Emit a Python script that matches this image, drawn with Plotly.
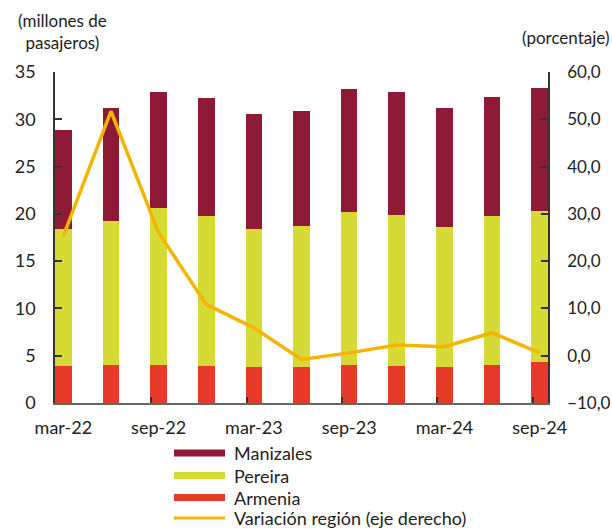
import plotly.graph_objects as go

# Quarterly air passenger traffic, Eje Cafetero region
periods = ["mar-22", "jun-22", "sep-22", "dec-22", "mar-23", "jun-23",
           "sep-23", "dec-23", "mar-24", "jun-24", "sep-24"]
armenia = [3.9, 4.05, 4.05, 3.9, 3.77, 3.77, 4.05, 3.9, 3.77, 4.05, 4.3]
pereira = [14.5, 15.15, 16.55, 15.87, 14.63, 14.91, 16.1, 16.0, 14.8, 15.72, 16.03]
manizales = [10.45, 11.95, 12.3, 12.48, 12.2, 12.22, 13.05, 13.0, 12.58, 12.63, 13.0]
variacion = [25.3, 51.7, 26.0, 10.85, 5.9, -0.8, 0.6, 2.25, 1.9, 4.86, 0.6]

tick_labels = periods[::2]

COL_MAN = "#8E1A35"
COL_PER = "#D5DA34"
COL_ARM = "#E63B2A"
COL_VAR = "#F5B400"
FONT = "Lato"

W, H = 612, 529
ML, MR, MT, MB = 55, 64, 72, 126
x = list(range(len(periods)))
x_range = [-0.175, len(periods) - 1 + 0.175]
# small tick marks sit just left of every second bar
tick_marks = [i - 0.15 for i in x[2::2]]

fig = go.Figure()
for name, vals, col in [("Armenia", armenia, COL_ARM),
                        ("Pereira", pereira, COL_PER),
                        ("Manizales", manizales, COL_MAN)]:
    fig.add_trace(go.Bar(x=x, y=vals, name=name, marker_color=col,
                         marker_line_width=0, width=0.35, showlegend=False))

fig.add_trace(go.Scatter(x=x, y=variacion, name="Variación región (eje derecho)",
                         mode="lines", line=dict(color=COL_VAR, width=3.5),
                         yaxis="y2", showlegend=False))

# carrier trace for the tick-mark axis
fig.add_trace(go.Scatter(x=[None], y=[None], xaxis="x2", showlegend=False,
                         hoverinfo="skip"))

fig.update_layout(
    width=W, height=H,
    margin=dict(l=ML, r=MR, t=MT, b=MB, pad=0, autoexpand=False),
    barmode="stack",
    plot_bgcolor="white", paper_bgcolor="white",
    separators=",.",
    font=dict(family=FONT, size=18, color="#222222"),
    xaxis=dict(range=x_range, automargin=False,
               tickmode="array", tickvals=x[::2], ticktext=tick_labels,
               ticks="", showline=True, linecolor="#666666", linewidth=2,
               showgrid=False, zeroline=False, ticklabelstandoff=7),
    xaxis2=dict(range=x_range, overlaying="x", anchor="y", side="bottom",
                automargin=False,
                tickmode="array", tickvals=tick_marks, ticks="inside",
                ticklen=6, tickcolor="#333333", tickwidth=1.5,
                showticklabels=False, showline=False, showgrid=False,
                zeroline=False),
    yaxis=dict(range=[0, 35], dtick=5, ticks="inside", ticklen=7,
               automargin=False,
               tickcolor="#333333", tickwidth=1.5,
               showline=True, linecolor="#333333", linewidth=1.5,
               showgrid=False, zeroline=False, ticklabelstandoff=14),
    yaxis2=dict(range=[-10, 60], dtick=10, tickformat=".1f", overlaying="y",
                automargin=False, tickfont=dict(size=17),
                side="right", ticks="inside", ticklen=7, tickcolor="#333333",
                tickwidth=1.5, showline=True, linecolor="#333333", linewidth=1.5,
                showgrid=False, zeroline=False, ticklabelstandoff=14),
)

plot_h = H - MT - MB
plot_w = W - ML - MR


def px_to_paper(px, py):
    return (px - ML) / plot_w, (H - MB - py) / plot_h


# Axis unit captions
fig.add_annotation(text="(millones de<br>pasajeros)", xref="paper", yref="paper",
                   x=px_to_paper(62, 0)[0], y=px_to_paper(0, 8)[1],
                   xanchor="center", yanchor="top", showarrow=False,
                   align="center", font=dict(size=17))
fig.add_annotation(text="(porcentaje)", xref="paper", yref="paper",
                   x=px_to_paper(611, 0)[0], y=px_to_paper(0, 38)[1],
                   xanchor="right", yanchor="middle", showarrow=False,
                   font=dict(size=17))

# Legend below the plot
legend_items = [("Manizales", COL_MAN, 7), ("Pereira", COL_PER, 7),
                ("Armenia", COL_ARM, 7),
                ("Variación región (eje derecho)", COL_VAR, 3)]
sym_x0, sym_x1, text_x = 174, 225, 232
row_y = [453, 475.5, 497.5, 518]
for (label, col, th), ry in zip(legend_items, row_y):
    x0, y0 = px_to_paper(sym_x0, ry - th / 2)
    x1, y1 = px_to_paper(sym_x1, ry + th / 2)
    fig.add_shape(type="rect", xref="paper", yref="paper",
                  x0=x0, x1=x1, y0=y0, y1=y1, fillcolor=col, line_width=0)
    tx, ty = px_to_paper(text_x, ry)
    fig.add_annotation(text=label, xref="paper", yref="paper", x=tx, y=ty,
                       xanchor="left", yanchor="middle", showarrow=False,
                       font=dict(size=18))

fig.write_html("out.html")
